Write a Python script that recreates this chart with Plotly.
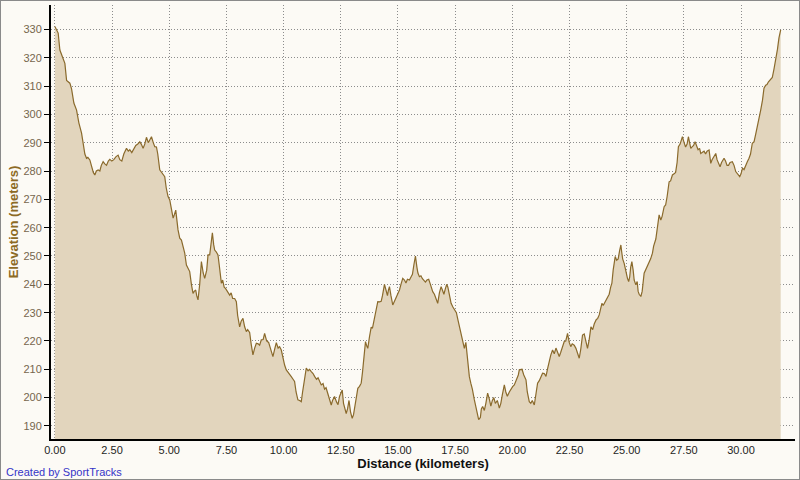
import plotly.graph_objects as go

distance_km = [
    0.00, 0.144, 0.218, 0.362, 0.437, 0.511, 0.581, 0.655, 0.729, 0.83, 0.948, 1.048, 1.166, 1.236, 1.31,
    1.384, 1.441, 1.528, 1.616, 1.68, 1.747, 1.812, 1.891, 1.965, 2.03, 2.109, 2.183, 2.258, 2.336, 2.402,
    2.489, 2.576, 2.664, 2.764, 2.838, 2.926, 3.013, 3.131, 3.21, 3.275, 3.362, 3.45, 3.537, 3.624, 3.712,
    3.777, 3.856, 3.93, 4.004, 4.083, 4.148, 4.223, 4.301, 4.367, 4.441, 4.498, 4.585, 4.694, 4.803, 4.869,
    4.948, 5.022, 5.096, 5.17, 5.22, 5.284, 5.384, 5.459, 5.533, 5.611, 5.677, 5.751, 5.821, 5.895, 5.969,
    6.039, 6.092, 6.157, 6.201, 6.258, 6.332, 6.406, 6.485, 6.55, 6.638, 6.695, 6.769, 6.834, 6.886, 6.943,
    6.987, 7.052, 7.131, 7.183, 7.279, 7.336, 7.402, 7.467, 7.555, 7.642, 7.707, 7.773, 7.86, 7.934, 7.991,
    8.079, 8.144, 8.223, 8.297, 8.371, 8.428, 8.515, 8.581, 8.659, 8.734, 8.808, 8.886, 8.952, 9.026, 9.105,
    9.17, 9.258, 9.345, 9.432, 9.533, 9.607, 9.681, 9.76, 9.825, 9.899, 9.978, 10.044, 10.118, 10.197, 10.262,
    10.336, 10.415, 10.48, 10.546, 10.624, 10.699, 10.773, 10.83, 10.895, 10.991, 11.07, 11.135, 11.21, 11.288,
    11.354, 11.441, 11.507, 11.572, 11.646, 11.725, 11.79, 11.856, 11.921, 12.009, 12.083, 12.14, 12.227,
    12.314, 12.38, 12.445, 12.511, 12.563, 12.62, 12.664, 12.738, 12.795, 12.86, 12.926, 13.0, 13.057, 13.122,
    13.166, 13.245, 13.319, 13.393, 13.45, 13.515, 13.581, 13.624, 13.681, 13.755, 13.83, 13.886, 13.952,
    14.048, 14.118, 14.192, 14.266, 14.323, 14.41, 14.476, 14.541, 14.585, 14.629, 14.694, 14.773, 14.847,
    14.934, 15.0, 15.066, 15.131, 15.21, 15.284, 15.349, 15.415, 15.502, 15.576, 15.633, 15.699, 15.764,
    15.83, 15.873, 15.939, 16.004, 16.07, 16.135, 16.201, 16.266, 16.345, 16.419, 16.52, 16.594, 16.659,
    16.738, 16.812, 16.886, 16.943, 17.009, 17.074, 17.131, 17.183, 17.249, 17.323, 17.402, 17.467, 17.555,
    17.62, 17.686, 17.751, 17.817, 17.904, 17.969, 18.035, 18.122, 18.188, 18.253, 18.341, 18.406, 18.472,
    18.528, 18.603, 18.646, 18.703, 18.777, 18.843, 18.921, 18.996, 19.061, 19.127, 19.192, 19.258, 19.345,
    19.432, 19.498, 19.563, 19.651, 19.716, 19.782, 19.869, 19.934, 20.013, 20.087, 20.175, 20.262, 20.306,
    20.424, 20.502, 20.598, 20.655, 20.742, 20.808, 20.873, 20.961, 21.026, 21.105, 21.179, 21.245, 21.323,
    21.397, 21.472, 21.55, 21.616, 21.681, 21.76, 21.834, 21.908, 21.987, 22.052, 22.118, 22.183, 22.271,
    22.336, 22.415, 22.489, 22.555, 22.62, 22.707, 22.782, 22.838, 22.926, 22.991, 23.07, 23.144, 23.21,
    23.288, 23.362, 23.437, 23.515, 23.581, 23.668, 23.734, 23.799, 23.865, 23.917, 23.974, 24.061, 24.162,
    24.236, 24.301, 24.354, 24.41, 24.454, 24.498, 24.563, 24.629, 24.694, 24.747, 24.782, 24.825, 24.891,
    24.956, 25.035, 25.087, 25.131, 25.175, 25.227, 25.284, 25.328, 25.402, 25.459, 25.502, 25.546, 25.62,
    25.677, 25.764, 25.83, 25.895, 25.983, 26.048, 26.127, 26.179, 26.275, 26.332, 26.419, 26.493, 26.55,
    26.638, 26.703, 26.769, 26.856, 26.921, 27.0, 27.074, 27.14, 27.205, 27.262, 27.336, 27.437, 27.511,
    27.576, 27.642, 27.699, 27.751, 27.803, 27.86, 27.926, 27.991, 28.057, 28.122, 28.188, 28.24, 28.297,
    28.384, 28.45, 28.515, 28.603, 28.677, 28.734, 28.799, 28.895, 28.952, 29.017, 29.083, 29.148, 29.258,
    29.323, 29.389, 29.454, 29.52, 29.62, 29.694, 29.769, 29.847, 29.943, 30.0, 30.066, 30.131, 30.197,
    30.275, 30.349, 30.415, 30.493, 30.568, 30.642, 30.712, 30.786, 30.86, 30.939, 31.004, 31.079, 31.135,
    31.201, 31.266, 31.367, 31.441, 31.515, 31.594, 31.659, 31.734,
]

elevation_m = [
    331, 328.7, 322.7, 319.8, 318, 312, 311.5, 311, 309, 304, 301.5, 297, 293.4, 289.8, 286,
    284.5, 284.8, 283.9, 281, 279.5, 278.6, 280, 280.4, 280, 282, 283.3, 282.5, 282, 283.5, 284.1,
    283.5, 284, 285, 285.6, 284, 283.5, 286, 288, 287, 287.5, 286.5, 288, 289, 289.5, 290.3,
    289.5, 288, 289.5, 291.9, 290, 291, 292.1, 290, 288.6, 288.5, 286, 280.4, 279, 278, 274,
    271, 269.8, 266.2, 263.4, 264.5, 266.2, 259.2, 256.3, 255.6, 253, 251, 246.8, 245.7, 244.5, 240,
    236.8, 237.5, 238, 236, 234.5, 240, 248, 244, 242.1, 245, 250.4, 250.4, 254, 258.2, 254,
    252.1, 251.5, 250.4, 247, 240.4, 241.5, 239, 238.5, 237.5, 236.2, 237, 235, 235, 233.9, 229,
    225, 227, 228, 225, 223.3, 224, 223, 219, 215.1, 217.5, 219.2, 219, 218.5, 220.4, 220.5,
    222.7, 220, 219.5, 217.5, 214.5, 217, 219.4, 217.5, 218, 216.8, 213.5, 211.5, 209.8, 209, 208.5,
    207.4, 206.5, 205.7, 202, 199.2, 199, 198.6, 202, 206, 210.4, 209.5, 210, 209.2, 208.5,
    207.5, 206.5, 207, 205.5, 204.5, 205, 203, 203.5, 201.5, 199, 197.4, 199, 200.4,
    198.5, 197.5, 200.4, 201.5, 202.7, 198, 196.5, 194.4, 196, 199, 195, 192.7, 194, 197,
    200, 203.3, 204, 205.1, 209, 214, 219.8, 218.5, 217.4, 221.5, 224.9, 224.5, 227.5,
    231.5, 233.9, 233.8, 234, 236, 240, 238, 236, 238, 239.2, 236, 232.7, 234,
    235.5, 237, 238, 240, 242.1, 241.5, 240.5, 241.8, 241.5, 242.7, 243.5, 247, 250,
    246, 244, 242.7, 243, 242, 241.5, 240.8, 241.5, 241.8, 240, 237.4, 236.5, 235,
    233.3, 237, 239.2, 238, 236.5, 238.5, 240, 239, 236, 233.3, 232, 230.9, 230,
    227.5, 225, 222, 219.5, 217.4, 219.5, 213, 207.4, 205, 203, 199.2, 196.5, 194,
    192.2, 193, 196, 196.9, 195.5, 198, 201.6, 199.5, 197, 199, 200, 198, 199,
    196.3, 198, 201, 204.5, 202, 200.5, 202, 203, 203.9, 204.5, 206, 208, 209.8,
    210, 208, 206.3, 202, 198.6, 198, 199, 197.4, 201, 205.1, 206, 207, 208.6,
    208.5, 207.5, 210.5, 213.3, 215, 216.8, 215.5, 217.5, 216, 214.5, 216, 217.5, 219.8,
    220, 222.7, 219.5, 218, 219, 218.5, 217.4, 216, 213.9, 217, 222.1, 222.5, 220,
    217.4, 220.5, 225, 224, 226, 227.5, 228, 229.2, 231.5, 233.3, 232.5, 234, 235.7,
    236.5, 239, 240.4, 245, 248, 249.8, 248.5, 249, 252, 253.9, 251.5, 249, 247.4,
    244.5, 242.1, 241, 242.5, 246, 248, 245, 241.5, 239.8, 241, 237.5, 236.5, 235.7,
    237.5, 243.9, 245, 246, 247.4, 249, 251, 253.5, 256, 259, 264.5, 262.7, 264,
    267.4, 268, 271, 276.2, 276.5, 278.6, 279, 279.5, 283, 288.6, 289.5, 292.1, 290,
    288.5, 289.5, 292.1, 290, 288, 288.5, 289, 290.3, 288.5, 287.5, 288, 286.2, 286.5,
    287, 286, 287, 287.4, 282.7, 284, 285, 286.2, 284, 283, 281.5, 283, 284.5,
    283.5, 282, 282, 283, 283.3, 282, 279.8, 279, 278, 279, 281, 280.5, 282,
    283.3, 284.5, 286, 289.8, 290.3, 293, 295.6, 298, 301.5, 305, 309.2, 310.3, 310.5,
    311.5, 312, 313, 316, 319.2, 323, 327, 329.8,
]

x_tick_values = [0, 2.5, 5, 7.5, 10, 12.5, 15, 17.5, 20, 22.5, 25, 27.5, 30]
y_tick_values = [190, 200, 210, 220, 230, 240, 250, 260, 270, 280, 290, 300, 310, 320, 330]

W, H = 800, 480
ML, MR, MT, MB = 51, 5, 5, 41
PW, PH = W - ML - MR, H - MT - MB

fig = go.Figure()
fig.add_trace(go.Scatter(
    x=distance_km, y=elevation_m, mode="lines",
    line=dict(color="#8a6a2c", width=1.2),
    fill="tozeroy", fillcolor="#e2d5bd",
    hoverinfo="x+y", showlegend=False,
))

fig.update_layout(
    width=W, height=H,
    margin=dict(l=ML, r=MR, t=MT, b=MB),
    paper_bgcolor="#fcfaf5", plot_bgcolor="#fcfaf5",
    font=dict(family="Liberation Sans, Arial, sans-serif", size=11, color="#222222"),
    xaxis=dict(
        range=[-0.17, 32.36], tickvals=x_tick_values, tickformat=".2f",
        showgrid=True, gridcolor="#8c8c8c", griddash="1px,2px", gridwidth=1,
        showline=True, linecolor="#000000", linewidth=2, zeroline=False,
        ticks="", tickfont=dict(size=11, color="#1e1e1e"),
        title=dict(text="<b>Distance (kilometers)</b>", standoff=4,
                   font=dict(size=13, color="#111111")),
    ),
    yaxis=dict(
        range=[185.4, 338.6], tickvals=y_tick_values,
        showgrid=True, gridcolor="#8c8c8c", griddash="1px,2px", gridwidth=1,
        showline=True, linecolor="#000000", linewidth=2, zeroline=False,
        ticks="outside", ticklen=5, tickcolor="#000000", tickwidth=1,
        tickfont=dict(size=11, color="#76664d"),
        title=dict(text="<b>Elevation (meters)</b>", standoff=2,
                   font=dict(size=13, color="#8c6a24")),
    ),
    annotations=[dict(
        text="Created by SportTracks", xref="paper", yref="paper",
        x=(4 - ML) / PW, y=(H - MB - 471.7) / PH, xanchor="left", yanchor="middle",
        showarrow=False, font=dict(size=11, color="#3535c8"),
    )],
    shapes=[dict(
        type="rect", xref="paper", yref="paper", layer="above",
        x0=-ML / PW, x1=1 + MR / PW, y0=-MB / PH, y1=1 + MT / PH,
        line=dict(color="#8a8a8a", width=2), fillcolor="rgba(0,0,0,0)",
    )],
)

fig.write_html(
    "out.html",
    config={"displayModeBar": False},
    post_script="document.body.style.margin='0';document.body.style.overflow='hidden';",
)
